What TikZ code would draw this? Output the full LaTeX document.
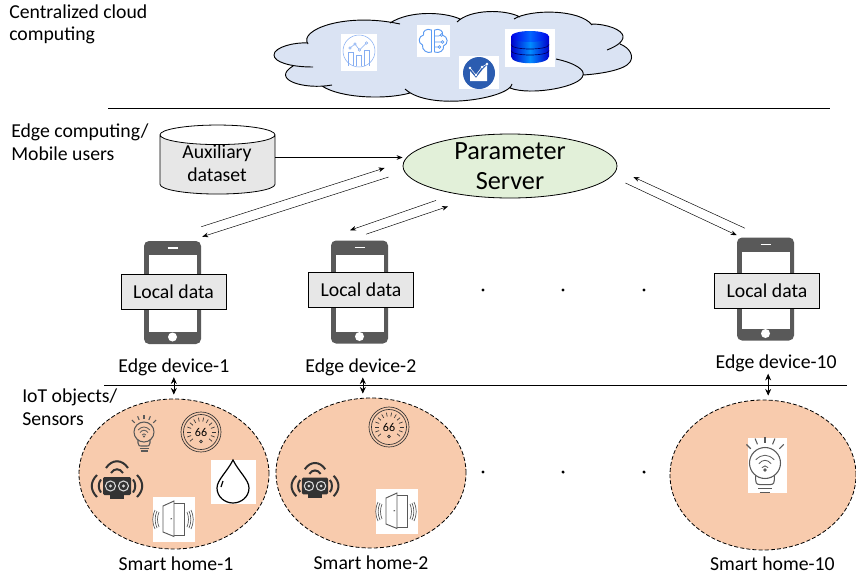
\documentclass[tikz,border=0pt]{standalone}
\usepackage{fontspec}
\setmainfont{Carlito}
\usetikzlibrary{shapes.geometric,positioning,arrows.meta}

\definecolor{cloudfill}{HTML}{DAE3F3}
\definecolor{serverfill}{HTML}{E2F0D9}
\definecolor{homefill}{HTML}{F8CBAD}
\definecolor{boxfill}{HTML}{E7E7E7}
\definecolor{iconlight}{HTML}{86AEF2}
\definecolor{iconblue}{HTML}{5C9BF2}
\definecolor{icondark}{HTML}{2B5CB0}
\definecolor{icongray}{HTML}{595959}

% the lobes of the cloud, #1 goes between two lobes
\newcommand{\cloudlobes}[1]{
	(308,44) .. controls (298,30) and (345,12) .. (400,24) #1
	(390,23) .. controls (410,10) and (445,12) .. (460,19) #1
	(457,22) .. controls (470,9) and (505,9) .. (520,17) #1
	(514,19) .. controls (530,9) and (580,9) .. (592,25) #1
	(591,24) .. controls (608,24) and (622,30) .. (623,36) .. controls (624,43) and (612,48) .. (607,50) #1
	(620,44) .. controls (630,48) and (634,56) .. (630,62) .. controls (625,70) and (600,74) .. (583,75) #1
	(556,59) .. controls (575,63) and (585,70) .. (583,75) .. controls (582,87) and (530,96) .. (510,88) #1
	(512,84) .. controls (510,98) and (430,112) .. (405,89) #1
	(410,93) .. controls (385,100) and (340,98) .. (322,86) #1
	(332,85) .. controls (305,90) and (270,80) .. (293,66) #1
	(313,67) .. controls (290,67) and (274,62) .. (274,55) .. controls (274,47) and (295,42) .. (308,43)
}

\tikzset{
	phone/.pic={
		\node[draw=none,fill=icongray,rounded corners=3.75pt,minimum width=42.75pt,minimum height=77.25pt,inner sep=0] (-body) at (0,0) {};
		\fill[white] (-24,-37.5) rectangle (24,39.5);
		\draw[white,line width=0.9pt] (-5,-44.5) -- (5,-44.5);
		\fill[white] (0,44.5) circle (4.5);
	},
	bulb/.pic={
		\draw[icongray,line width=0.8pt] (0,0) circle (10);
		\draw[icongray,line width=0.8pt] (-6,8) -- (-6,11) .. controls (-6,14) and (-4,14) .. (-3,14) -- (3,14) .. controls (4,14) and (6,14) .. (6,11) -- (6,8);
		\draw[icongray,line width=0.8pt] (-4.5,16.5) -- (4.5,16.5) (-3.5,19) -- (3.5,19);
		\foreach \a in {-135,-112,-90,-68,-45}
			\draw[icongray,line width=0.8pt] (\a:13) -- (\a:17);
		\draw[icongray,line width=0.6pt] (-6,-2) .. controls (-2,-6) and (2,-6) .. (6,-2) (-4,0.5) .. controls (-1.5,-2.5) and (1.5,-2.5) .. (4,0.5) (-2,3) .. controls (-1,1.5) and (1,1.5) .. (2,3);
		\fill[icongray] (0,4.5) circle (1.2);
	},
	thermo/.pic={
		\draw[black!80,line width=0.5pt] (0,0) circle (20) circle (17.5);
		\foreach \a in {-220,-200,...,40}
			\draw[black!80,line width=0.5pt] (\a:10.5) -- (\a:14.5);
		\node[inner sep=0,font=\fontsize{9}{9}\selectfont] (-val) at (0,0) {66};
		\draw[black!80,line width=0.5pt] (0,9.5) circle (1.4);
	},
	sonar/.pic={
		\fill[black!80,rounded corners=1pt] (-14,-9) rectangle (14,9);
		\fill[black!80] (-7,8) rectangle (7,13);
		\draw[white!85!black,line width=0.8pt] (-6.5,0) circle (5) (6.5,0) circle (5);
		\fill[white!85!black] (-6.5,0) circle (1.6) (6.5,0) circle (1.6);
		\draw[black!80,line width=1.5pt] (-11,-18) .. controls (-5,-27) and (5,-27) .. (11,-18);
		\draw[black!80,line width=1.5pt] (-6,-13) .. controls (-3,-18) and (3,-18) .. (6,-13);
		\draw[black!80,line width=1.5pt] (-16,-6.5) .. controls (-19,-3) and (-19,3) .. (-16,6.5);
		\draw[black!80,line width=1.5pt] (-20,-11) .. controls (-27,-4) and (-27,4) .. (-20,11);
		\draw[black!80,line width=1.5pt] (16,-6.5) .. controls (19,-3) and (19,3) .. (16,6.5);
		\draw[black!80,line width=1.5pt] (20,-11) .. controls (27,-4) and (27,4) .. (20,11);
	},
	doorway/.pic={
		\draw[icongray,line width=0.6pt] (0,-18) -- (10.5,-18) -- (10.5,14) -- (0,14);
		\draw[icongray,fill=white,line width=0.7pt] (-11,-15) -- (0,-20) -- (0,15.5) -- (-11,11) -- cycle;
		\draw[icongray,line width=0.7pt] (-3.5,-2) -- (-2,-2.5);
		\draw[icongray,line width=0.5pt] (-15,-9) .. controls (-17,-4) and (-17,1) .. (-15,6);
		\draw[icongray,line width=0.5pt] (-17,-10) .. controls (-19.5,-4) and (-19.5,1) .. (-17,7);
		\draw[icongray,line width=0.5pt] (-19,-11) .. controls (-22,-4) and (-22,1) .. (-19,8);
		\draw[icongray,line width=0.5pt] (13,-9) .. controls (15,-4) and (15,1) .. (13,6);
		\draw[icongray,line width=0.5pt] (15,-10) .. controls (17.5,-4) and (17.5,1) .. (15,7);
		\draw[icongray,line width=0.5pt] (17,-11) .. controls (20,-4) and (20,1) .. (17,8);
	}
}

\begin{document}
\begin{tikzpicture}[x=0.75pt,y=-0.75pt]
	\tikzstyle{every node}=[font=\fontsize{14.8}{17}\selectfont]
	\tikzstyle{arrow}=[draw,->,>={Stealth[length=4.5pt,width=3.5pt]},line width=0.35pt]
	\tikzstyle{updown}=[draw,<->,>={Stealth[length=5pt,width=4.5pt]},line width=0.5pt,shorten <=1pt,shorten >=3pt]
	\tikzstyle{rule}=[draw,line width=0.6pt]
	\tikzstyle{device}=[inner sep=0]
	\tikzstyle{home}=[ellipse,draw,dash pattern=on 3pt off 1.6pt,line width=0.6pt,fill=homefill,minimum width=142.5pt,minimum height=112.5pt,inner sep=0]
	\tikzstyle{databox}=[rectangle,draw,fill=boxfill,line width=0.6pt,minimum width=78.75pt,minimum height=26.25pt,inner sep=0]
	\tikzstyle{whitebox}=[rectangle,fill=white,inner sep=0]
	\tikzstyle{dot}=[circle,fill=black,minimum size=2.6pt,inner sep=0]
	\tikzstyle{side}=[anchor=west,align=left,inner sep=0]

	\useasboundingbox (0,0) rectangle (856,575);

	% cloud
	\fill[cloudfill] \cloudlobes{--} -- cycle;
	\draw[line width=0.7pt] \cloudlobes{};

	\node[whitebox,minimum width=27pt,minimum height=27.75pt] (B1) at (359,52.5) {};
	\node[whitebox,minimum width=24.75pt,minimum height=24pt] (B2) at (433.5,41) {};
	\node[whitebox,minimum width=30pt,minimum height=24.75pt] (B3) at (479,72.5) {};
	\node[whitebox,minimum width=37.5pt,minimum height=28.5pt] (B4) at (530,48) {};

	\begin{scope}[shift={(359,51)},iconlight,line width=0.4pt]
		\draw (0,0) circle (16);
		\draw (-10.5,15) -- (-10.5,1.5) -- (-5.5,1.5) -- (-5.5,15);
		\draw (-2.5,15) -- (-2.5,4) -- (2.5,4) -- (2.5,15);
		\draw (5.5,15) -- (5.5,-1) -- (10.5,-1) -- (10.5,15);
		\draw (-9,-3) -- (-4,-7) -- (0.5,-1) -- (7.5,-8);
		\draw[fill=white] (-9,-3) circle (1.2) (-4,-7) circle (1.2) (0.5,-1) circle (1.2) (7.5,-8) circle (1.2);
	\end{scope}
	\begin{scope}[shift={(433.5,41)},iconblue,line width=0.7pt]
		\draw (-2,-11) .. controls (-7,-13) and (-11,-10) .. (-10,-6) .. controls (-15,-5) and (-16,2) .. (-11,4) .. controls (-12,9) and (-6,13) .. (-2,11) -- cycle;
		\draw (1,-11) -- (1,11);
		\draw (1,-11) .. controls (6,-13) and (10,-10) .. (9,-6) .. controls (15,-4) and (15,3) .. (10,5) .. controls (11,9) and (6,13) .. (1,11);
		\draw[line width=0.5pt] (1,-5) -- (5,-5) -- (8,-6) (1,1) -- (8,1) (1,6) -- (5,6);
		\draw[fill=white,line width=0.5pt] (8,-6) circle (1.3) (9,1) circle (1.3) (6,6) circle (1.3);
	\end{scope}
	\begin{scope}[shift={(479,73)}]
		\fill[icondark] (0,0) circle (16);
		\fill[white] (-9,-2) -- (-3,5) -- (4,-4) -- (8,-8) -- (8,8) -- (-9,8) -- cycle;
		\draw[white,line width=0.4pt] (-9,-5) -- (-3,2) -- (3,-6) -- (8,-9);
		\fill[white] (-9,-5) circle (1.3) (-3,2) circle (1.3) (3,-6) circle (1.3) (8,-9) circle (1.3);
	\end{scope}
	\begin{scope}[shift={(530,36.5)}]
		\shade[left color=blue!80!black,right color=blue!80!black,middle color=blue!45!cyan] (-19,0) -- (-19,20) .. controls (-19,29) and (19,29) .. (19,20) -- (19,0) -- cycle;
		\draw[black!60!blue,line width=0.5pt] (-19,8) .. controls (-19,14) and (19,14) .. (19,8) (-19,14) .. controls (-19,20) and (19,20) .. (19,14);
		\shade[left color=blue!90!black,right color=blue!90!black,middle color=blue!60!cyan] (0,0) ellipse [x radius=19,y radius=5.5];
	\end{scope}

	\node[side] (T1) at (9,24.5) {Centralized cloud\\computing};
	\coordinate (R1) at (108,108);
	\coordinate (R2) at (830,108);
	\draw[rule] (R1) -- (R2);

	% edge
	\node[side] (T2) at (11,142) {Edge computing/\\Mobile users};
	\node[ellipse,draw,fill=serverfill,line width=0.6pt,minimum width=160.5pt,minimum height=48pt,inner sep=0,inner ysep=-6pt,align=center,font=\fontsize{19.7}{22.5}\selectfont] (PS) at (510,166) {Parameter\\Server};
	\node[cylinder,draw,shape border rotate=90,aspect=0.25,minimum width=86.25pt,minimum height=51.75pt,line width=0.6pt,cylinder uses custom fill,cylinder body fill=boxfill,cylinder end fill=white] (AD) at (217.5,166.5) {\phantom{Auxiliary}};
	\node[align=center,inner sep=0] (ADT) at (217,163.5) {Auxiliary\\dataset};

	\pic (P1) at (172.5,292.5) {phone};
	\pic (P2) at (359.5,292) {phone};
	\pic (P10) at (765.5,289) {phone};
	\node[databox] (D1) at (173.5,291.5) {Local data};
	\node[databox] (D2) at (361,289.5) {Local data};
	\node[databox] (D10) at (767,290.5) {Local data};
	\node[device,below=10.5pt of P1-body,xshift=1pt] (E1) {Edge device-1};
	\node[device,below=11pt of P2-body,xshift=1pt] (E2) {Edge device-2};
	\node[device,below=10.5pt of P10-body,xshift=8pt] (E10) {Edge device-10};

	\draw[arrow] ([yshift=6.75pt]AD.east) -- ([yshift=6.75pt]AD.east -| PS.west);
	\draw[arrow] ([yshift=10.5pt]P1-body.north east) -- ([shift={(-13.5pt,-1.5pt)}]PS.west);
	\draw[arrow] ([shift={(-10.5pt,-8.25pt)}]PS.west) -- ([shift={(0.75pt,3pt)}]P1-body.north east);
	\draw[arrow] ([shift={(-55.5pt,-1.5pt)}]PS.south) -- ([shift={(-7.1pt,7.5pt)}]P2-body.north);
	\draw[arrow] ([shift={(4.9pt,4.5pt)}]P2-body.north) -- ([shift={(-46.5pt,-6pt)}]PS.south);
	\draw[arrow] ([shift={(-15.4pt,6.75pt)}]P10-body.north) -- ([shift={(12pt,-8.25pt)}]PS.east);
	\draw[arrow] ([shift={(6pt,-12.75pt)}]PS.east) -- ([shift={(0pt,1.5pt)}]P10-body.north west);

	\node[dot] (U1) at (483,290) {};
	\node[dot] (U2) at (563,290) {};
	\node[dot] (U3) at (644,290) {};

	\coordinate (R3) at (104,385);
	\coordinate (R4) at (847,385);
	\draw[rule] (R3) -- (R4);

	% iot
	\node[side] (T3) at (22,407.5) {IoT objects/\\Sensors};
	\node[home] (H1) at (174,474) {};
	\node[home] (H2) at (371,473) {};
	\node[home,minimum width=139.5pt] (H10) at (763,475) {};
	\node[device,below=5pt of H1,xshift=1.5pt] (S1) {Smart home-1};
	\node[device,below=5pt of H2] (S2) {Smart home-2};
	\node[device,below=4.5pt of H10,xshift=7pt] (S10) {Smart home-10};

	\draw[updown] (E1.south) -- (E1.south |- H1.north);
	\draw[updown] ([xshift=1.5pt]E2.south) -- ([xshift=1.5pt]E2.south |- H2.north);
	\draw[updown] ([xshift=-6pt]E10.south) -- ([xshift=-6pt]E10.south |- H10.north);

	\node[dot] (V1) at (483,472) {};
	\node[dot] (V2) at (563,472) {};
	\node[dot] (V3) at (644,472) {};

	\node[whitebox,minimum width=33.75pt,minimum height=33pt] (W1) at (233.5,482) {};
	\draw[line width=0.9pt] (233,460) .. controls (227,472) and (217,480) .. (217,488) .. controls (217,497) and (225,503) .. (233,503) .. controls (241,503) and (249,497) .. (249,488) .. controls (249,480) and (239,472) .. (233,460) -- cycle;
	\draw[line width=0.9pt] (221,487) -- (223,481);
	\node[whitebox,minimum width=31.5pt,minimum height=33.75pt] (W2) at (174,519.5) {};
	\node[whitebox,minimum width=31.5pt,minimum height=33.75pt] (W3) at (397,511.5) {};
	\node[whitebox,minimum width=29.25pt,minimum height=41.25pt] (W4) at (767.5,465.5) {};

	\pic at (144,432) {bulb};
	\pic at (201,432) {thermo};
	\pic at (117,486) {sonar};
	\pic at (174,521) {doorway};
	\pic at (389,427) {thermo};
	\pic[scale=0.93] at (315,486) {sonar};
	\pic at (397,513) {doorway};
	\pic[scale=1.55] at (765,463) {bulb};
\end{tikzpicture}
\end{document}
